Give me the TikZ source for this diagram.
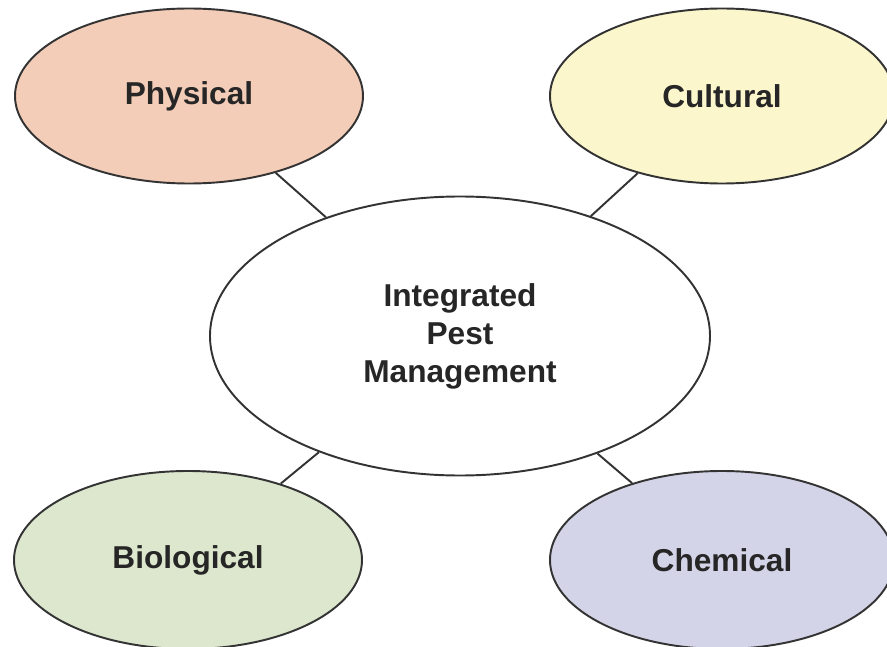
\documentclass[tikz,border=0pt]{standalone}
\usepackage{fontspec}
\setmainfont{Liberation Sans}
\usetikzlibrary{shapes.geometric}

\definecolor{physfill}{HTML}{F3CDB7}
\definecolor{cultfill}{HTML}{FBF6CB}
\definecolor{biofill}{HTML}{DDE7CD}
\definecolor{chemfill}{HTML}{D4D4E8}
\definecolor{edgegray}{HTML}{333333}

\begin{document}
\begin{tikzpicture}[
			every node/.style = {font=\fontsize{18}{21.6}\selectfont\bfseries, text=black!85},
			topic/.style = {ellipse, draw=edgegray, line width=1.1pt, inner sep=0pt,
				minimum width=6.96cm, minimum height=3.5cm, align=center},
			link/.style = {draw=edgegray, line width=1.1pt}
			]

			\useasboundingbox (0,0) rectangle (17.74,12.92);

			\node[topic, fill=white, minimum width=10cm, minimum height=5.58cm] (ipm) at (9.2,6.2)
				{Integrated\\Pest\\Management};

			\node[topic, fill=physfill] (phys) at (3.78,11.0) {Physical};
			\node[topic, fill=cultfill, minimum width=6.88cm] (cult) at (14.44,11.0) {Cultural};
			\node[topic, fill=biofill, minimum height=3.56cm] (bio) at (3.76,1.72) {Biological};
			\node[topic, fill=chemfill, minimum width=6.88cm, minimum height=3.56cm] (chem) at (14.44,1.72) {Chemical};

			\foreach \n in {phys,cult,bio,chem}{
				\draw[link] (\n) -- (ipm);
			}

		\end{tikzpicture}
\end{document}
